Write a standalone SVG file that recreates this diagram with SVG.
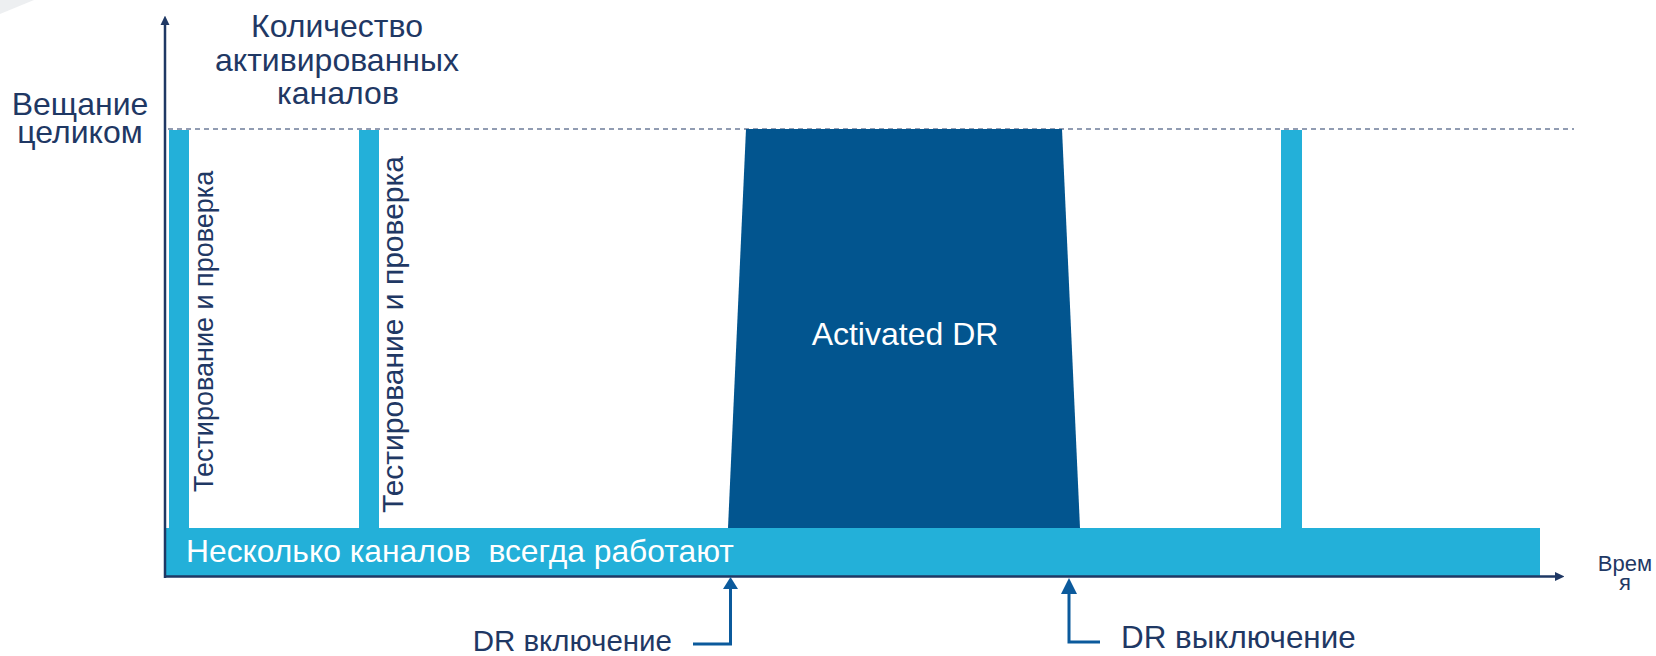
<svg xmlns="http://www.w3.org/2000/svg" width="1656" height="656" viewBox="0 0 1656 656">
  <style>
    .lbl { font-family: "Liberation Sans", Arial, sans-serif; fill: #1F3864; }
    .wht { font-family: "Liberation Sans", Arial, sans-serif; fill: #FFFFFF; }
    .bar { fill: #23B0D9; }
    .axis { stroke: #1F3864; stroke-width: 2.5; fill: none; }
    .drarrow { stroke: #0B5A9C; stroke-width: 3; fill: none; }
  </style>
  <defs>
    <marker id="axisHead" markerWidth="10" markerHeight="10" refX="0" refY="0" viewBox="-1 -8 18 16" markerUnits="userSpaceOnUse" orient="auto">
      <path d="M0,-8 L17,0 L0,8 Z" fill="#1F3864"/>
    </marker>
  </defs>
  <rect width="1656" height="656" fill="#FFFFFF"/>
  <polygon points="0,0 34,0 0,14" fill="#E6E8EB" opacity="0.7"/>

  <g id="full-broadcast-line">
    <line x1="168" y1="129" x2="1574" y2="129" stroke="#6E7C99" stroke-width="1.5" stroke-dasharray="5,4"/>
  </g>

  <g id="base-channels">
    <rect class="bar" x="166" y="528" width="1374" height="48"/>
    <text class="wht" x="186" y="562" font-size="31.8" xml:space="preserve">Несколько каналов  всегда работают</text>
  </g>

  <g id="test-1">
    <rect class="bar" x="169" y="130" width="20" height="400"/>
    <text class="lbl" x="213" y="492" font-size="27" transform="rotate(-90 213 492)">Тестирование и проверка</text>
  </g>

  <g id="test-2">
    <rect class="bar" x="359" y="130" width="20" height="400"/>
    <text class="lbl" x="403" y="513" font-size="30" transform="rotate(-90 403 513)">Тестирование и проверка</text>
  </g>

  <g id="test-3">
    <rect class="bar" x="1281" y="130" width="21" height="400"/>
  </g>

  <g id="activated-dr">
    <polygon points="746,129 1062,129 1080,528 728,528" fill="#02558F"/>
    <text class="wht" x="905" y="345" font-size="32" text-anchor="middle">Activated DR</text>
  </g>

  <g id="y-axis-label">
    <text class="lbl" x="337" y="37" font-size="32" text-anchor="middle">Количество</text>
    <text class="lbl" x="337" y="71" font-size="32" text-anchor="middle">активированных</text>
    <text class="lbl" x="338" y="104" font-size="32" text-anchor="middle">каналов</text>
  </g>

  <g id="full-label">
    <text class="lbl" x="80" y="115" font-size="32" text-anchor="middle">Вещание</text>
    <text class="lbl" x="80" y="143" font-size="32" text-anchor="middle">целиком</text>
  </g>

  <g id="time-label">
    <text class="lbl" x="1625" y="571" font-size="22" text-anchor="middle">Врем</text>
    <text class="lbl" x="1625" y="590" font-size="22" text-anchor="middle">я</text>
  </g>

  <g id="dr-on">
    <text class="lbl" x="672" y="651" font-size="29.5" text-anchor="end">DR включение</text>
  </g>

  <g id="dr-off">
    <text class="lbl" x="1121" y="648" font-size="31.4">DR выключение</text>
  </g>

  <g id="connectors">
    <line class="axis" x1="165" y1="578" x2="165" y2="25" marker-end="url(#axisHead)"/>
    <line class="axis" x1="164" y1="576.5" x2="1555" y2="576.5" marker-end="url(#axisHead)"/>
    <polyline class="drarrow" points="693,644 730.5,644 730.5,587"/>
    <polygon points="730.5,577 738,589 723,589" fill="#0B5A9C"/>
    <polyline class="drarrow" points="1100,642 1069,642 1069,592"/>
    <polygon points="1069,578 1077,594 1061,594" fill="#0B5A9C"/>
  </g>
</svg>
